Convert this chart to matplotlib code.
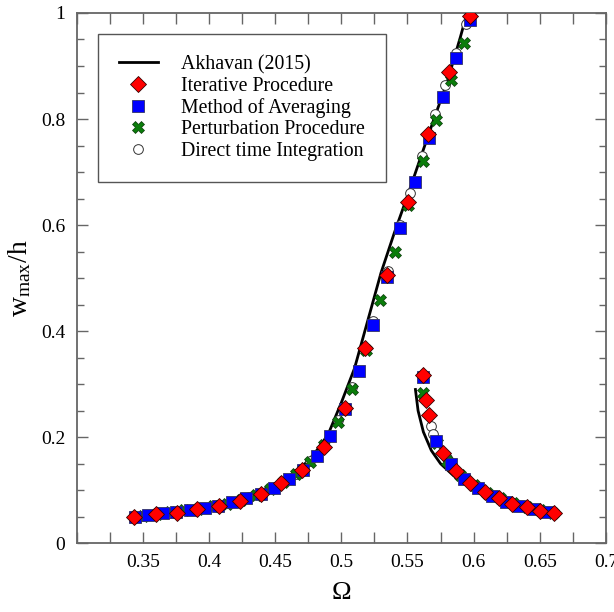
import numpy as np
import matplotlib
matplotlib.use("Agg")
import matplotlib.pyplot as plt
from matplotlib.ticker import MultipleLocator, FixedLocator

plt.rcParams['font.family'] = ['Liberation Serif', 'DejaVu Serif']
plt.rcParams['mathtext.fontset'] = 'custom'
plt.rcParams['mathtext.rm'] = 'Liberation Serif'
plt.rcParams['mathtext.it'] = 'Liberation Serif:italic'

# Akhavan (2015) - upper branch and lower (right) branch
akh_up_x = [0.35, 0.37, 0.39, 0.41, 0.425, 0.44, 0.45, 0.46, 0.47, 0.48, 0.49,
            0.50, 0.51, 0.52, 0.53, 0.54, 0.55, 0.56, 0.57, 0.58, 0.59, 0.595]
akh_up_y = [0.052, 0.058, 0.066, 0.076, 0.086, 0.10, 0.111, 0.126, 0.143, 0.17, 0.205,
            0.265, 0.33, 0.42, 0.51, 0.585, 0.655, 0.728, 0.80, 0.87, 0.955, 1.0]
akh_dn_x = [0.556, 0.558, 0.562, 0.568, 0.575, 0.585, 0.595, 0.61, 0.625, 0.64, 0.655, 0.662]
akh_dn_y = [0.29, 0.25, 0.21, 0.175, 0.15, 0.127, 0.111, 0.094, 0.080, 0.069, 0.061, 0.058]

# Iterative Procedure
iter_x = [0.3434, 0.360, 0.3756, 0.391, 0.4075, 0.4233, 0.439, 0.4548, 0.4706, 0.4867,
          0.5026, 0.518, 0.5345, 0.5506, 0.5657, 0.5813, 0.5969,
          0.5614, 0.5637, 0.566, 0.5767, 0.5868, 0.5974, 0.6082, 0.6188, 0.629,
          0.6401, 0.6504, 0.661]
iter_y = [0.050, 0.0545, 0.0576, 0.064, 0.0708, 0.080, 0.0928, 0.113, 0.139, 0.182,
          0.256, 0.368, 0.505, 0.643, 0.771, 0.889, 0.994,
          0.318, 0.2696, 0.242, 0.171, 0.1366, 0.113, 0.096, 0.0847, 0.075,
          0.0677, 0.0608, 0.0564]

# Method of Averaging
avg_x = [0.344, 0.354, 0.365, 0.375, 0.3856, 0.3972, 0.407, 0.4178, 0.4284, 0.439, 0.449,
         0.4605, 0.471, 0.4817, 0.4918, 0.503, 0.513, 0.524, 0.5345, 0.5446, 0.5556,
         0.566, 0.5767, 0.5868, 0.597,
         0.5614, 0.5717, 0.5825, 0.5926, 0.6031, 0.6137, 0.6245, 0.6346, 0.6452, 0.6555]
avg_y = [0.050, 0.053, 0.0564, 0.059, 0.0627, 0.067, 0.071, 0.0777, 0.085, 0.093, 0.1047,
         0.121, 0.138, 0.1655, 0.2025, 0.254, 0.325, 0.412, 0.503, 0.594, 0.682,
         0.764, 0.842, 0.915, 0.986,
         0.314, 0.1925, 0.149, 0.122, 0.1035, 0.0896, 0.078, 0.0708, 0.0645, 0.0583]

# Perturbation Procedure
pert_x = [0.350, 0.3605, 0.3705, 0.381, 0.392, 0.4032, 0.414, 0.4245, 0.4354, 0.446,
          0.456, 0.466, 0.4767, 0.487, 0.4975, 0.508, 0.5185, 0.5295, 0.5405, 0.5506,
          0.5617, 0.5717, 0.5828, 0.5929,
          0.5614, 0.572, 0.58, 0.59, 0.60, 0.61, 0.62, 0.63, 0.64, 0.65, 0.66]
pert_y = [0.052, 0.056, 0.0595, 0.062, 0.065, 0.070, 0.075, 0.082, 0.0909, 0.102,
          0.115, 0.130, 0.153, 0.186, 0.229, 0.290, 0.365, 0.458, 0.549, 0.637,
          0.720, 0.798, 0.873, 0.944,
          0.284, 0.19, 0.155, 0.128, 0.11, 0.095, 0.085, 0.076, 0.069, 0.062, 0.057]

# Direct time Integration
dti_x = [0.35, 0.37, 0.39, 0.41, 0.43, 0.45, 0.466, 0.476, 0.487, 0.4975, 0.508, 0.524,
         0.5352, 0.5446, 0.552, 0.5607, 0.5707, 0.578, 0.5865, 0.594,
         0.5677, 0.5695, 0.5797, 0.59, 0.60, 0.615, 0.63, 0.645, 0.66]
dti_y = [0.052, 0.058, 0.064, 0.072, 0.087, 0.107, 0.13, 0.155, 0.185, 0.232, 0.295, 0.42,
         0.514, 0.60, 0.66, 0.73, 0.81, 0.865, 0.925, 0.98,
         0.222, 0.207, 0.160, 0.128, 0.108, 0.089, 0.076, 0.065, 0.057]

fig = plt.figure(figsize=(6.14, 6.12), dpi=100)
ax = fig.add_axes([0.1246, 0.1123, 0.8625, 0.8665])

l1, = ax.plot(akh_up_x, akh_up_y, color='black', lw=2, zorder=2)
ax.plot(akh_dn_x, akh_dn_y, color='black', lw=2, zorder=2)
h5, = ax.plot(dti_x, dti_y, 'o', ms=7, mfc='white', mec='#333333', mew=0.7, ls='none', zorder=3)
h4, = ax.plot(pert_x, pert_y, 'X', ms=8.5, mfc='#0b7d0b', mec='#0a3a0a', mew=0.5, ls='none', zorder=4)
h3, = ax.plot(avg_x, avg_y, 's', ms=8, mfc='#0000ff', mec='#333366', mew=0.6, ls='none', zorder=5)
h2, = ax.plot(iter_x, iter_y, 'D', ms=8.5, mfc='#ff0000', mec='#330000', mew=0.6, ls='none', zorder=6)

ax.set_xlim(0.3, 0.7)
ax.set_ylim(0, 1)
ax.xaxis.set_major_locator(FixedLocator([0.35, 0.4, 0.45, 0.5, 0.55, 0.6, 0.65, 0.7]))
ax.xaxis.set_minor_locator(FixedLocator([0.3, 0.325, 0.375, 0.425, 0.475, 0.525, 0.575, 0.625, 0.675]))
ax.yaxis.set_minor_locator(MultipleLocator(0.05))
ax.set_xticklabels(['0.35', '0.4', '0.45', '0.5', '0.55', '0.6', '0.65', '0.7'])
ax.set_yticks([0, 0.2, 0.4, 0.6, 0.8, 1.0])
ax.set_yticklabels(['0', '0.2', '0.4', '0.6', '0.8', '1'])

spine_col = '#666666'
for s in ax.spines.values():
    s.set_color(spine_col)
    s.set_linewidth(1.3)
ax.tick_params(which='both', direction='in', top=True, right=True, color=spine_col,
               width=1.0, labelsize=14, pad=8)
ax.tick_params(axis='x', which='both', length=8)
ax.tick_params(axis='y', which='major', length=8)
ax.tick_params(axis='y', which='minor', length=5)

ax.set_xlabel('Ω', fontsize=19, labelpad=8)
ax.set_ylabel(r'w$_{\mathrm{max}}$/h', fontsize=20, labelpad=6)

leg = ax.legend([l1, h2, h3, h4, h5],
                ['Akhavan (2015)', 'Iterative Procedure', 'Method of Averaging',
                 'Perturbation Procedure', 'Direct time Integration'],
                loc='upper left', bbox_to_anchor=(0.04, 0.96), fontsize=14.3,
                frameon=True, fancybox=False, edgecolor='#555555', framealpha=1,
                handlelength=2.0, handletextpad=1.15, labelspacing=0.12, borderpad=1.05,
                borderaxespad=0)
leg.get_frame().set_linewidth(1.0)

fig.savefig('out.png', dpi=100)
